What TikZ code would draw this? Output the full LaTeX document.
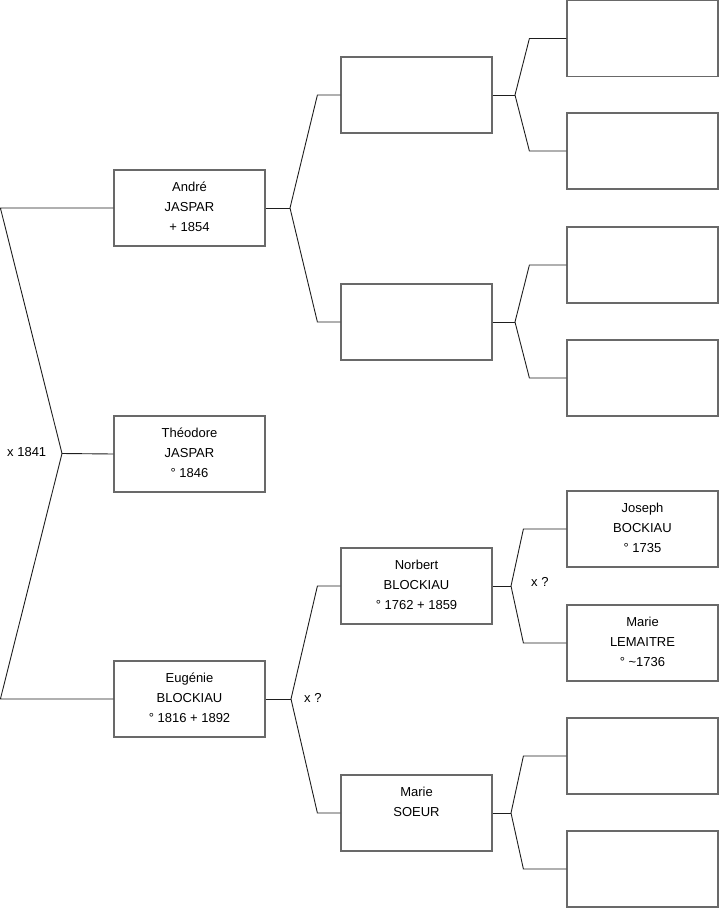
\documentclass[tikz,border=0pt]{standalone}
\usepackage{fontspec}
\setmainfont{Liberation Sans}
\definecolor{boxcol}{RGB}{105,105,105}
\definecolor{linkcol}{RGB}{30,30,30}
\tikzset{
  pbox/.style={draw=boxcol, line width=1.2pt, minimum width=151pt, minimum height=76pt, inner sep=0pt, fill=white},
  ptxt/.style={anchor=north, inner sep=0pt, align=center, font=\fontsize{13}{20}\selectfont},
  link/.style={draw=linkcol, line width=0.9pt},
  marr/.style={anchor=west, inner sep=0pt, font=\fontsize{13}{15}\selectfont}
}
\begin{document}
\begin{tikzpicture}[x=1pt, y=-1pt]
\useasboundingbox (0,0) rectangle (719,908);
% level 1
\node[pbox] (andre) at (189.5,208) {};
\node[pbox] (theo) at (189.5,454) {};
\node[pbox] (eug) at (189.5,699) {};
% level 2
\node[pbox] (b1) at (416.5,95) {};
\node[pbox] (b2) at (416.5,322) {};
\node[pbox] (norb) at (416.5,586) {};
\node[pbox] (msoeur) at (416.5,813) {};
% level 3
\node[pbox] (c1) at (642.5,38.5) {};
\node[pbox] (c2) at (642.5,151) {};
\node[pbox] (c3) at (642.5,265) {};
\node[pbox] (c4) at (642.5,378) {};
\node[pbox] (jos) at (642.5,529) {};
\node[pbox] (mlem) at (642.5,643) {};
\node[pbox] (c7) at (642.5,756) {};
\node[pbox] (c8) at (642.5,869) {};
% texts
\node[ptxt] (tandre) at ([yshift=-7.6pt]andre.north) {\strut André\\JASPAR\\+ 1854};
\node[ptxt] (ttheo) at ([yshift=-7.6pt]theo.north) {\strut Théodore\\JASPAR\\° 1846};
\node[ptxt] (teug) at ([yshift=-7.6pt]eug.north) {\strut Eugénie\\BLOCKIAU\\° 1816 + 1892};
\node[ptxt] (tnorb) at ([yshift=-7.6pt]norb.north) {\strut Norbert\\BLOCKIAU\\° 1762 + 1859};
\node[ptxt] (tmsoeur) at ([yshift=-7.6pt]msoeur.north) {\strut Marie\\SOEUR};
\node[ptxt] (tjos) at ([yshift=-7.6pt]jos.north) {\strut Joseph\\BOCKIAU\\° 1735};
\node[ptxt] (tmlem) at ([yshift=-7.6pt]mlem.north) {\strut Marie\\LEMAITRE\\° \textasciitilde1736};
% fork points
\coordinate (f0) at (62,453.5);
\coordinate (fA) at (290,208);
\coordinate (fE) at (291,699);
\coordinate (fB1) at (515,95);
\coordinate (fB2) at (515,322);
\coordinate (fN) at (511,586);
\coordinate (fM) at (511,813);
% connectors
\draw[link] (theo.west) -- (f0);
\draw[link] (andre.west) -- ([xshift=-113pt]andre.west) -- (f0) -- ([xshift=-113pt]eug.west) -- (eug.west);
\draw[link] (andre.east) -- (fA);
\draw[link] (b1.west) -- ([xshift=-23pt]b1.west) -- (fA) -- ([xshift=-23pt]b2.west) -- (b2.west);
\draw[link] (eug.east) -- (fE);
\draw[link] (norb.west) -- ([xshift=-23pt]norb.west) -- (fE) -- ([xshift=-23pt]msoeur.west) -- (msoeur.west);
\draw[link] (b1.east) -- (fB1);
\draw[link] (c1.west) -- ([xshift=-37pt]c1.west) -- (fB1) -- ([xshift=-37pt]c2.west) -- (c2.west);
\draw[link] (b2.east) -- (fB2);
\draw[link] (c3.west) -- ([xshift=-37pt]c3.west) -- (fB2) -- ([xshift=-37pt]c4.west) -- (c4.west);
\draw[link] (norb.east) -- (fN);
\draw[link] (jos.west) -- ([xshift=-43pt]jos.west) -- (fN) -- ([xshift=-43pt]mlem.west) -- (mlem.west);
\draw[link] (msoeur.east) -- (fM);
\draw[link] (c7.west) -- ([xshift=-43pt]c7.west) -- (fM) -- ([xshift=-43pt]c8.west) -- (c8.west);
% marriage labels
\node[marr] (m0) at (7,452) {x 1841};
\node[marr] (mE) at (304,698) {x ?};
\node[marr] (mN) at (531,582) {x ?};
\end{tikzpicture}
\end{document}
